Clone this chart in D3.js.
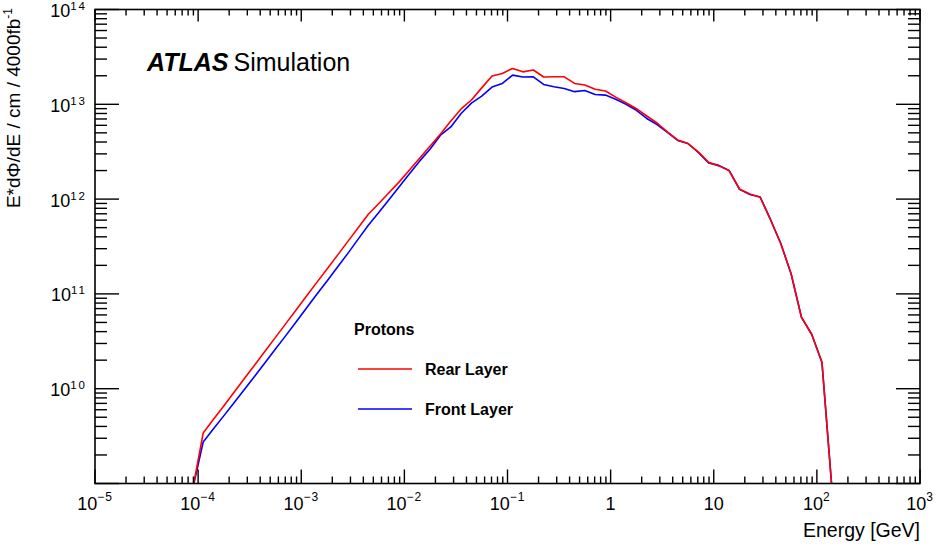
<!DOCTYPE html>
<html>
<head>
<meta charset="utf-8">
<script src="https://cdn.jsdelivr.net/npm/d3@7"></script>
<style>
  html, body { margin: 0; padding: 0; background: #fff; }
  svg { display: block; font-family: "Liberation Sans", Arial, Helvetica, sans-serif; }
</style>
</head>
<body>
<svg id="chart" width="937" height="547"></svg>
<script>
// ---- data ----
const energies = [
  8.91e-5,
  1.12e-4, 1.41e-4, 1.78e-4, 2.24e-4, 2.82e-4, 3.55e-4, 4.47e-4, 5.62e-4, 7.08e-4, 8.91e-4,
  1.12e-3, 1.41e-3, 1.78e-3, 2.24e-3, 2.82e-3, 3.55e-3, 4.47e-3, 5.62e-3, 7.08e-3, 8.91e-3,
  1.12e-2, 1.41e-2, 1.78e-2, 2.24e-2, 2.82e-2, 3.55e-2, 4.47e-2, 5.62e-2, 7.08e-2, 8.91e-2,
  0.112, 0.141, 0.178, 0.224, 0.282, 0.355, 0.447, 0.562, 0.708, 0.891,
  1.12, 1.41, 1.78, 2.24, 2.82, 3.55, 4.47, 5.62, 7.08, 8.91,
  11.2, 14.1, 17.8, 22.4, 28.2, 35.5, 44.7, 56.2, 70.8, 89.1,
  112, 141
];
const rearLayer = [
  9e8,
  3.41e9, 4.75e9, 6.62e9, 9.23e9, 1.29e10, 1.79e10, 2.50e10, 3.48e10, 4.86e10, 6.77e10,
  9.44e10, 1.315e11, 1.83e11, 2.55e11, 3.56e11, 4.96e11, 6.92e11, 8.93e11, 1.165e12, 1.52e12,
  2.03e12, 2.72e12, 3.64e12, 4.87e12, 6.67e12, 8.93e12, 1.11e13, 1.49e13, 1.99e13, 2.11e13,
  2.39e13, 2.20e13, 2.30e13, 1.94e13, 1.95e13, 1.95e13, 1.66e13, 1.60e13, 1.44e13, 1.38e13,
  1.19e13, 1.04e13, 8.99e12, 7.53e12, 6.35e12, 5.11e12, 4.21e12, 3.85e12, 3.15e12, 2.44e12,
  2.24e12, 1.99e12, 1.27e12, 1.13e12, 1.045e12, 6.05e11, 3.38e11, 1.64e11, 5.67e10, 3.73e10,
  1.905e10, 8e8
];
const frontLayer = [
  9e8,
  2.74e9, 3.77e9, 5.20e9, 7.16e9, 9.86e9, 1.36e10, 1.89e10, 2.62e10, 3.63e10, 5.06e10,
  7.05e10, 9.84e10, 1.37e11, 1.91e11, 2.66e11, 3.76e11, 5.30e11, 7.18e11, 9.84e11, 1.35e12,
  1.85e12, 2.53e12, 3.38e12, 4.72e12, 5.77e12, 8.00e12, 1.03e13, 1.22e13, 1.52e13, 1.66e13,
  2.03e13, 1.94e13, 1.95e13, 1.62e13, 1.53e13, 1.47e13, 1.36e13, 1.40e13, 1.27e13, 1.25e13,
  1.13e13, 1.00e13, 8.65e12, 7.09e12, 6.12e12, 5.05e12, 4.16e12, 3.86e12, 3.11e12, 2.41e12,
  2.27e12, 2.01e12, 1.27e12, 1.12e12, 1.05e12, 6.1e11, 3.40e11, 1.63e11, 5.7e10, 3.75e10,
  1.90e10, 8e8
];
const xMajorTicks = [1e-5, 1e-4, 1e-3, 1e-2, 1e-1, 1, 10, 100, 1000];
const xTickLabels = [["10","\u22125"],["10","\u22124"],["10","\u22123"],["10","\u22122"],["10","\u22121"],["1",""],["10",""],["10","2"],["10","3"]];
const yMajorTicks = [1e9, 1e10, 1e11, 1e12, 1e13, 1e14];
const yTickLabels = [["",""],["10","10"],["10","11"],["10","12"],["10","13"],["10","14"]];
const seriesNames = ["Rear Layer", "Front Layer"];
const seriesColors = ["#ff0000", "#0000ff"];

// ---- layout ----
const L = 95, R = 920, T = 9.5, B = 483.5;
const svg = d3.select("#chart");
const x = d3.scaleLog().domain([1e-5, 1e3]).range([L, R]);
const y = d3.scaleLog().domain([1e9, 1e14]).range([B, T]);

svg.append("defs").append("clipPath").attr("id", "clip")
  .append("rect").attr("x", L).attr("y", T).attr("width", R - L).attr("height", B - T);

// curves (front first, rear on top)
const line = d3.line().x(d => x(d[0])).y(d => y(d[1]));
const gLines = svg.append("g").attr("clip-path", "url(#clip)");
gLines.append("path").datum(energies.map((e, i) => [e, frontLayer[i]]))
  .attr("d", line).attr("fill", "none").attr("stroke", seriesColors[1]).attr("stroke-width", 1.6).attr("stroke-linejoin", "round");
gLines.append("path").datum(energies.map((e, i) => [e, rearLayer[i]]))
  .attr("d", line).attr("fill", "none").attr("stroke", seriesColors[0]).attr("stroke-width", 1.6).attr("stroke-linejoin", "round");

// ticks
const gT = svg.append("g").attr("stroke", "#000").attr("stroke-width", 1.4);
function minorOf(majors) {
  const arr = [];
  for (let i = 0; i < majors.length - 1; i++)
    for (let m = 2; m <= 9; m++) arr.push(majors[i] * m);
  return arr;
}
xMajorTicks.forEach(v => {
  gT.append("line").attr("x1", x(v)).attr("x2", x(v)).attr("y1", B).attr("y2", B - 14);
  gT.append("line").attr("x1", x(v)).attr("x2", x(v)).attr("y1", T).attr("y2", T + 12);
});
minorOf(xMajorTicks).forEach(v => {
  gT.append("line").attr("x1", x(v)).attr("x2", x(v)).attr("y1", B).attr("y2", B - 7);
  gT.append("line").attr("x1", x(v)).attr("x2", x(v)).attr("y1", T).attr("y2", T + 6);
});
yMajorTicks.forEach(v => {
  gT.append("line").attr("y1", y(v)).attr("y2", y(v)).attr("x1", L).attr("x2", L + 24);
  gT.append("line").attr("y1", y(v)).attr("y2", y(v)).attr("x1", R).attr("x2", R - 24);
});
minorOf(yMajorTicks).forEach(v => {
  gT.append("line").attr("y1", y(v)).attr("y2", y(v)).attr("x1", L).attr("x2", L + 12);
  gT.append("line").attr("y1", y(v)).attr("y2", y(v)).attr("x1", R).attr("x2", R - 12);
});

// frame
svg.append("rect").attr("x", L).attr("y", T).attr("width", R - L).attr("height", B - T)
  .attr("fill", "none").attr("stroke", "#000").attr("stroke-width", 1.6);

// x tick labels
xMajorTicks.forEach((v, i) => {
  const [base, exp] = xTickLabels[i];
  const t = svg.append("text").attr("x", x(v)).attr("y", 510).attr("text-anchor", "middle")
    .attr("font-size", 18).attr("fill", "#000");
  t.append("tspan").text(base);
  if (exp) t.append("tspan").attr("dy", -9).attr("font-size", 12).attr("letter-spacing", 1).text(exp);
});
// y tick labels
yMajorTicks.forEach((v, i) => {
  const [base, exp] = yTickLabels[i];
  if (!base) return;
  const t = svg.append("text").attr("x", 87).attr("y", y(v) + 7.5).attr("text-anchor", "end")
    .attr("font-size", 18).attr("fill", "#000");
  t.append("tspan").text(base);
  if (exp) t.append("tspan").attr("dy", -7).attr("font-size", 11.5).attr("letter-spacing", 2).text(exp);
});

// axis titles
svg.append("text").attr("x", 920).attr("y", 537).attr("text-anchor", "end")
  .attr("font-size", 19.5).attr("fill", "#000").text("Energy [GeV]");
const yt = svg.append("text").attr("transform", "translate(20,8) rotate(-90)")
  .attr("text-anchor", "end").attr("font-size", 19).attr("fill", "#000");
yt.append("tspan").text("E*d\u03A6/dE / cm / 4000fb");
yt.append("tspan").attr("dy", -8).attr("font-size", 12).text("-1");

// ATLAS label
const at = svg.append("text").attr("x", 147).attr("y", 71).attr("font-size", 25).attr("fill", "#000");
at.append("tspan").attr("font-weight", "bold").attr("font-style", "italic").text("ATLAS");
at.append("tspan").attr("dx", 5).text("Simulation");

// legend
svg.append("text").attr("x", 354).attr("y", 335).attr("font-size", 16).attr("font-weight", "bold").text("Protons");
const legY = [369, 409];
seriesNames.forEach((n, i) => {
  svg.append("line").attr("x1", 358).attr("x2", 412).attr("y1", legY[i]).attr("y2", legY[i])
    .attr("stroke", seriesColors[i]).attr("stroke-width", 1.6);
  svg.append("text").attr("x", 425).attr("y", legY[i] + 5.5).attr("font-size", 16)
    .attr("font-weight", "bold").text(n);
});
</script>
</body>
</html>
